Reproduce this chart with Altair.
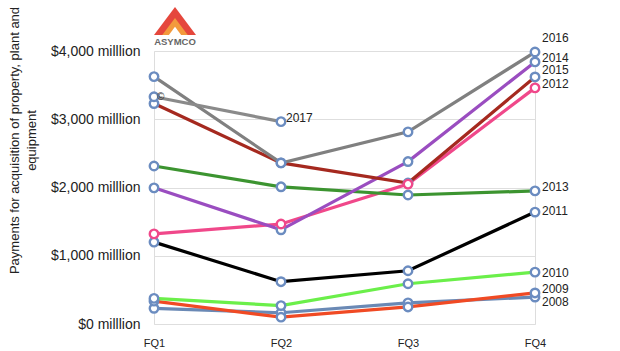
import altair as alt
import pandas as pd

quarters = ["FQ1", "FQ2", "FQ3", "FQ4"]
years = ["2008", "2009", "2010", "2011", "2012", "2013", "2014", "2015", "2016", "2017"]
values = {
    "2008": [230, 165, 310, 395],
    "2009": [335, 100, 250, 455],
    "2010": [375, 270, 590, 760],
    "2011": [1200, 620, 780, 1640],
    "2012": [1320, 1465, 2050, 3460],
    "2013": [2315, 2010, 1890, 1950],
    "2014": [1995, 1380, 2380, 3840],
    "2015": [3230, 2360, 2065, 3620],
    "2016": [3625, 2360, 2815, 3985],
    "2017": [3330, 2965],
}
colors = ["#6a89b5", "#f04a24", "#6bef4a", "#000000", "#f0488a",
          "#3c9430", "#9a4dc0", "#a5291f", "#808080", "#8a8a8a"]

label_years = ["2016", "2014", "2015", "2012", "2013", "2011", "2010", "2009", "2008"]
label_dy = [-14, -4, -7, -4, -4, -1, 1, -4, 5]

FONT = "Liberation Sans"

rows = []
for y in years:
    for q, v in zip(quarters, values[y]):
        rows.append({"year": y, "quarter": q, "value": v})
df = pd.DataFrame(rows)
# markers: pink series drawn last
df_pts = pd.concat([df[df.year != "2012"], df[df.year == "2012"]])

xenc = alt.X("quarter:N", sort=quarters,
             scale=alt.Scale(type="point", padding=0),
             axis=alt.Axis(title=None, domain=False, ticks=False, grid=False,
                           labelAngle=0, labelFont=FONT, labelFontSize=11,
                           labelColor="#222", labelPadding=13))
yenc = alt.Y("value:Q", scale=alt.Scale(domain=[0, 4000], nice=False),
             axis=alt.Axis(values=[0, 1000, 2000, 3000, 4000],
                           labelExpr="'$' + format(datum.value, ',') + ' milllion'",
                           domain=False, ticks=False, grid=True,
                           gridColor="#dedede", gridWidth=1,
                           labelFont=FONT, labelFontSize=14, labelColor="#222",
                           labelPadding=14,
                           title=["Payments for acquisition of property, plant and", "equipment"],
                           titleFont=FONT, titleFontSize=13, titleFontWeight="normal",
                           titleColor="#222", titleAngle=270, titleAlign="center",
                           titleBaseline="top", titleX=-146, titleY=89,
                           titleLineHeight=17))

color = alt.Color("year:N", scale=alt.Scale(domain=years, range=colors), legend=None)

lines = alt.Chart(df).mark_line(strokeWidth=3.2).encode(
    x=xenc, y=yenc, color=color, order=alt.Order("quarter:N"))

points = alt.Chart(df_pts).mark_point(
    filled=True, fill="white", size=72, strokeWidth=2.4, opacity=1
).encode(
    x=alt.X("quarter:N", sort=quarters),
    y="value:Q",
    stroke=alt.condition(alt.datum.year == "2012", alt.value("#f0488a"), alt.value("#6b8cc0")),
)

layers = [lines, points]

df_last = df[df.quarter == "FQ4"]
for ly, dy in zip(label_years, label_dy):
    layers.append(
        alt.Chart(df_last[df_last.year == ly]).mark_text(
            align="left", baseline="middle", dx=7, dy=dy,
            font=FONT, fontSize=12, color="#222"
        ).encode(x=alt.X("quarter:N", sort=quarters), y="value:Q", text="year:N")
    )

df17 = df[df.year == "2017"]
layers.append(
    alt.Chart(df17[df17.quarter == "FQ2"]).mark_text(
        align="left", baseline="middle", dx=5, dy=-4,
        font=FONT, fontSize=12, color="#222"
    ).encode(x=alt.X("quarter:N", sort=quarters), y="value:Q", text="year:N")
)
layers.append(
    alt.Chart(df17[df17.quarter == "FQ1"]).mark_text(
        align="left", baseline="middle", dx=3, dy=0,
        font=FONT, fontSize=10, color="#333"
    ).encode(x=alt.X("quarter:N", sort=quarters), y="value:Q", text=alt.value("©"))
)

# ASYMCO logo
logo_base = alt.Chart(pd.DataFrame({"a": [0]}))
tri = "M0,-1L1.5,1L-1.5,1Z"
layers.append(logo_base.mark_point(shape=tri, filled=True, fill="#e5473c", strokeWidth=0, opacity=1, size=784)
              .encode(x=alt.value(21), y=alt.value(-30)))
layers.append(logo_base.mark_point(shape=tri, filled=True, fill="#f39a3c", strokeWidth=0, opacity=1, size=289)
              .encode(x=alt.value(21), y=alt.value(-24.5)))
layers.append(logo_base.mark_point(shape=tri, filled=True, fill="#ffffff", strokeWidth=0, opacity=1, size=70)
              .encode(x=alt.value(21), y=alt.value(-20)))
layers.append(logo_base.mark_text(text="ASYMCO", font=FONT, fontSize=9.5, fontWeight="bold",
                                  color="#666", align="center", baseline="middle")
              .encode(x=alt.value(21), y=alt.value(-9)))

chart = alt.layer(*layers).properties(
    width=381, height=273,
    autosize=alt.AutoSizeParams(type="none"),
    padding={"left": 154, "top": 51, "right": 85, "bottom": 27},
).configure_view(stroke=None).configure(background="white")

chart.save("out.html", embed_options={"renderer": "svg", "actions": False})
